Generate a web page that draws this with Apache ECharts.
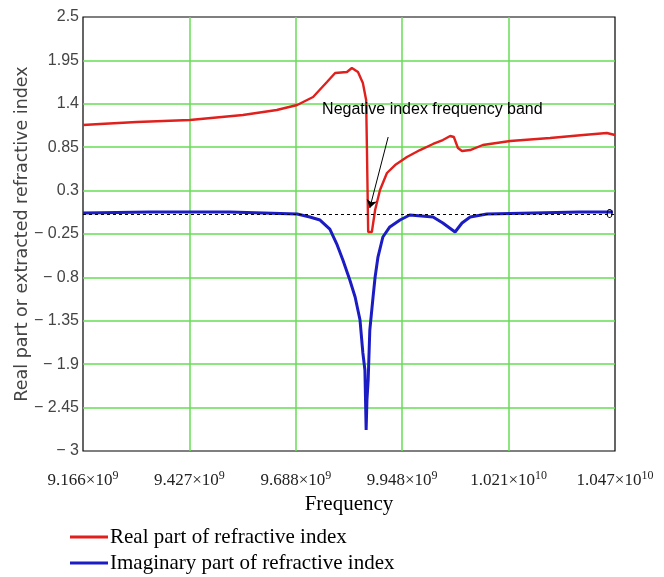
<!DOCTYPE html>
<html>
<head>
<meta charset="utf-8">
<script src="https://cdn.jsdelivr.net/npm/echarts@6/dist/echarts.min.js"></script>
<style>html,body{margin:0;padding:0;background:#fff}#c{width:664px;height:577px}</style>
</head>
<body>
<div id="c"></div>
<script>
// Frequencies in GHz (axis labels show Hz)
const realFreq = [9.166,9.208,9.298,9.428,9.558,9.641,9.691,9.730,9.764,9.784,9.813,9.825,9.840,9.852,9.860,9.862,9.865,9.874,9.882,9.894,9.911,9.931,9.960,9.992,10.024,10.048,10.066,10.075,10.085,10.095,10.115,10.146,10.213,10.311,10.392,10.450,10.470];
const realValues = [1.131,1.144,1.169,1.195,1.258,1.321,1.385,1.486,1.676,1.790,1.803,1.854,1.803,1.664,1.448,0.814,-0.225,-0.225,0.054,0.308,0.523,0.624,0.726,0.814,0.891,0.941,0.992,0.979,0.840,0.802,0.814,0.878,0.929,0.967,1.005,1.030,1.005];
const imagFreq = [9.166,9.330,9.526,9.691,9.722,9.747,9.771,9.789,9.803,9.820,9.833,9.845,9.852,9.857,9.860,9.862,9.865,9.869,9.877,9.882,9.889,9.901,9.918,9.943,9.967,10.024,10.048,10.078,10.095,10.115,10.156,10.269,10.384,10.465];
const imagValues = [0.016,0.029,0.029,0.003,-0.035,-0.073,-0.187,-0.389,-0.580,-0.833,-1.048,-1.340,-1.758,-1.974,-2.734,-2.354,-2.100,-1.467,-1.048,-0.795,-0.542,-0.288,-0.161,-0.073,-0.009,-0.035,-0.111,-0.225,-0.111,-0.035,0.003,0.016,0.029,0.029];

const xTickValues = [9.166,9.4268,9.6876,9.9484,10.2092,10.47];
const xTickBase = ['9.166×10','9.427×10','9.688×10','9.948×10','1.021×10','1.047×10'];
const xTickExp = ['9','9','9','9','10','10'];
const yTickValues = [-3,-2.45,-1.9,-1.35,-0.8,-0.25,0.3,0.85,1.4,1.95,2.5];
const yTickLabels = ['− 3','− 2.45','− 1.9','− 1.35','− 0.8','− 0.25','0.3','0.85','1.4','1.95','2.5'];

const annotationText = 'Negative index frequency band';
const annotationPos = [9.752, 1.321];
const arrowFrom = [9.914, 0.979];
const arrowTo = [9.869, 0.080];

function nearestIdx(arr, v){let b=0;for(let i=1;i<arr.length;i++){if(Math.abs(arr[i]-v)<Math.abs(arr[b]-v))b=i;}return b;}

const serif = '"Liberation Serif", "DejaVu Serif", serif';
const chart = echarts.init(document.getElementById('c'));
chart.setOption({
  animation:false,
  backgroundColor:'#fff',
  grid:{left:83,right:49,top:17,bottom:126,outerBoundsMode:'none',containLabel:false,show:true,borderColor:'#000',borderWidth:1.2,backgroundColor:'transparent'},
  legend:{
    orient:'vertical',left:70,top:526,padding:0,itemGap:4,itemWidth:38,itemHeight:3,icon:'rect',
    textStyle:{fontFamily:serif,fontSize:21,lineHeight:22,color:'#000',padding:[0,0,0,-3]},
    data:['Real part of refractive index','Imaginary part of refractive index']
  },
  xAxis:{
    type:'value',min:9.166,max:10.47,
    name:'Frequency',nameLocation:'middle',nameGap:43,nameMoveOverlap:false,
    nameTextStyle:{fontFamily:serif,fontSize:21,color:'#000'},
    axisLine:{show:false},
    axisTick:{show:false,customValues:xTickValues},
    splitLine:{show:true,showMinLine:false,showMaxLine:false,lineStyle:{color:'#66dd55',width:1.5}},
    axisLabel:{
      customValues:xTickValues,margin:19,
      formatter:function(v){const i=nearestIdx(xTickValues,v);return '{b|'+xTickBase[i]+'}{s|'+xTickExp[i]+'}';},
      rich:{b:{fontFamily:serif,fontSize:17,color:'#222'},s:{fontFamily:serif,fontSize:12,color:'#222',padding:[0,0,10,0]}}
    }
  },
  yAxis:{
    type:'value',min:-3,max:2.5,
    name:'Real part or extracted refractive index',nameLocation:'middle',nameGap:52,nameMoveOverlap:false,
    nameTextStyle:{fontFamily:'"DejaVu Sans", Verdana, sans-serif',fontSize:17.5,color:'#444'},
    axisLine:{show:false},
    axisTick:{show:false,customValues:yTickValues},
    splitLine:{show:true,showMinLine:false,showMaxLine:false,lineStyle:{color:'#66dd55',width:1.5}},
    axisLabel:{
      customValues:yTickValues,margin:4,
      fontFamily:'"Liberation Sans", Arial, sans-serif',fontSize:16,color:'#444',
      formatter:function(v){return yTickLabels[nearestIdx(yTickValues,v)];}
    }
  },
  series:[
    {
      name:'Imaginary part of refractive index',type:'line',
      data:imagFreq.map((f,i)=>[f,imagValues[i]]),
      showSymbol:false,symbol:'none',color:'#1c1cc4',
      lineStyle:{width:3,color:'#1c1cc4'},
      markLine:{
        silent:true,symbol:['none','none'],
        lineStyle:{type:[3,3],color:'#000',width:1},
        label:{show:true,position:'insideEndBottom',formatter:'0',fontSize:12,color:'#000',distance:[2,-6]},
        data:[{yAxis:0}]
      },
      z:3
    },
    {
      name:'Real part of refractive index',type:'line',
      data:realFreq.map((f,i)=>[f,realValues[i]]),
      showSymbol:false,symbol:'none',color:'#e0201c',
      lineStyle:{width:2.4,color:'#e0201c'},
      markLine:{
        silent:true,symbol:['none','arrow'],symbolSize:8,
        lineStyle:{type:'solid',color:'#000',width:1},
        label:{show:false},
        data:[[{coord:arrowFrom},{coord:arrowTo}]]
      },
      markPoint:{
        silent:true,symbol:'circle',symbolSize:0,
        label:{show:true,position:'right',distance:0,formatter:annotationText,fontFamily:'"Liberation Sans", Arial, sans-serif',fontSize:16,color:'#000'},
        data:[{coord:annotationPos}]
      },
      z:4
    }
  ]
});
</script>
</body>
</html>
